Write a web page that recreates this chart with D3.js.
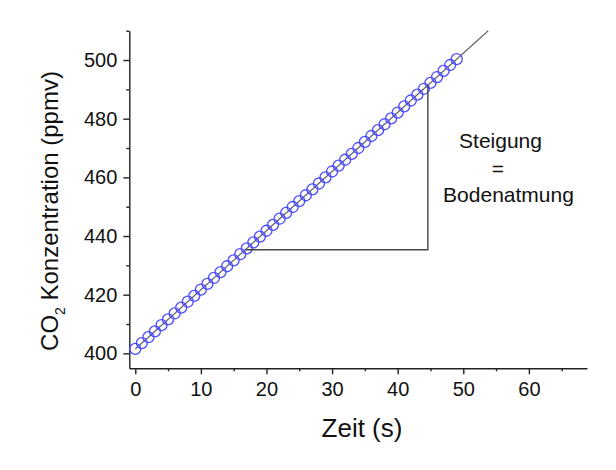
<!DOCTYPE html>
<html>
<head>
<meta charset="utf-8">
<script src="https://cdn.jsdelivr.net/npm/d3@7"></script>
<style>
  body { margin: 0; background: #fff; }
  svg { font-family: "Liberation Sans", Arial, sans-serif; }
</style>
</head>
<body>
<div id="chart"></div>
<script>
// measured points, one per second
const zeit = [0,1,2,3,4,5,6,7,8,9,10,11,12,13,14,15,16,17,18,19,20,21,22,23,24,
              25,26,27,28,29,30,31,32,33,34,35,36,37,38,39,40,41,42,43,44,45,46,47,48,49];
const co2 = [401.5,403.5,405.5,407.5,409.6,411.6,413.6,415.6,417.6,419.6,
             421.7,423.7,425.7,427.7,429.7,431.7,433.8,435.8,437.8,439.8,
             441.8,443.8,445.9,447.9,449.9,451.9,453.9,455.9,457.9,460.0,
             462.0,464.0,466.0,468.0,470.0,472.1,474.1,476.1,478.1,480.1,
             482.1,484.2,486.2,488.2,490.2,492.2,494.2,496.3,498.3,500.3];

// fitted line (ends at top of the frame)
const fitX = [0, 53.8];
const fitY = [401.5, 510];

// slope triangle
const triX = [16.8, 44.6, 44.6];
const triY = [435.3, 435.3, 491.4];

const xTicks = [0, 10, 20, 30, 40, 50, 60];
const xMinor = [5, 15, 25, 35, 45, 55, 65];
const yTicks = [400, 420, 440, 460, 480, 500];
const yMinor = [410, 430, 450, 470, 490, 510];

const labelLines = ["Steigung", "=", "Bodenatmung"];

var width = 616,
    height = 470;

var x = d3.scaleLinear().domain([-0.91, 68.86]).range([129.3, 587]);
var y = d3.scaleLinear().domain([394.9, 510]).range([368.3, 30.7]);

var svg = d3.select("#chart").append("svg")
    .attr("width", width)
    .attr("height", height);

// minor ticks first, so major ones draw on top
svg.append("g")
    .attr("transform", "translate(0," + y.range()[0] + ")")
    .call(d3.axisBottom(x).tickValues(xMinor).tickSize(3).tickFormat(""))
    .call(g => g.select(".domain").remove());
svg.append("g")
    .attr("transform", "translate(" + x.range()[0] + ",0)")
    .call(d3.axisLeft(y).tickValues(yMinor).tickSize(3).tickFormat(""))
    .call(g => g.select(".domain").remove());

var xAxis = svg.append("g")
    .attr("transform", "translate(0," + y.range()[0] + ")")
    .call(d3.axisBottom(x).tickValues(xTicks).tickSize(6).tickSizeOuter(0).tickPadding(8));
var yAxis = svg.append("g")
    .attr("transform", "translate(" + x.range()[0] + ",0)")
    .call(d3.axisLeft(y).tickValues(yTicks).tickSize(6).tickSizeOuter(0).tickPadding(6));

svg.selectAll(".tick line, .domain")
    .attr("stroke", "#222")
    .attr("stroke-width", 1.4);
svg.selectAll(".tick text")
    .attr("fill", "#111")
    .style("font-size", "20px")
    .style("font-family", "Liberation Sans, Arial, sans-serif");

// fit line
svg.append("line")
    .attr("x1", x(fitX[0])).attr("y1", y(fitY[0]))
    .attr("x2", x(fitX[1])).attr("y2", y(fitY[1]))
    .attr("stroke", "#666")
    .attr("stroke-width", 1.2);

// data circles
svg.append("g")
    .selectAll("circle")
    .data(zeit)
    .enter().append("circle")
    .attr("cx", (d, i) => x(d))
    .attr("cy", (d, i) => y(co2[i]))
    .attr("r", 5.5)
    .attr("fill", "none")
    .attr("stroke", "#4a4aff")
    .attr("stroke-width", 1.3);

// triangle
var tri = triX.map((d, i) => [x(d), y(triY[i])]);
svg.append("path")
    .attr("d", d3.line()(tri))
    .attr("fill", "none")
    .attr("stroke", "#444")
    .attr("stroke-width", 1.4);

// annotation
var labelPos = [[500.5, 148], [498, 176], [508.5, 202]];
svg.selectAll(".note")
    .data(labelLines)
    .enter().append("text")
    .attr("class", "note")
    .attr("x", (d, i) => labelPos[i][0])
    .attr("y", (d, i) => labelPos[i][1])
    .attr("text-anchor", "middle")
    .style("font-size", "21px")
    .attr("fill", "#111")
    .text(d => d);

// axis titles
svg.append("text")
    .attr("x", 362)
    .attr("y", 436.5)
    .attr("text-anchor", "middle")
    .style("font-size", "26px")
    .attr("fill", "#111")
    .text("Zeit (s)");

var yt = svg.append("text")
    .attr("transform", "translate(57.5,211) rotate(-90)")
    .attr("text-anchor", "middle")
    .style("font-size", "24px")
    .attr("fill", "#111");
yt.append("tspan").text("CO");
yt.append("tspan").attr("dy", 7).style("font-size", "14px").text("2");
yt.append("tspan").attr("dy", -7).text(" Konzentration (ppmv)");
</script>
</body>
</html>
